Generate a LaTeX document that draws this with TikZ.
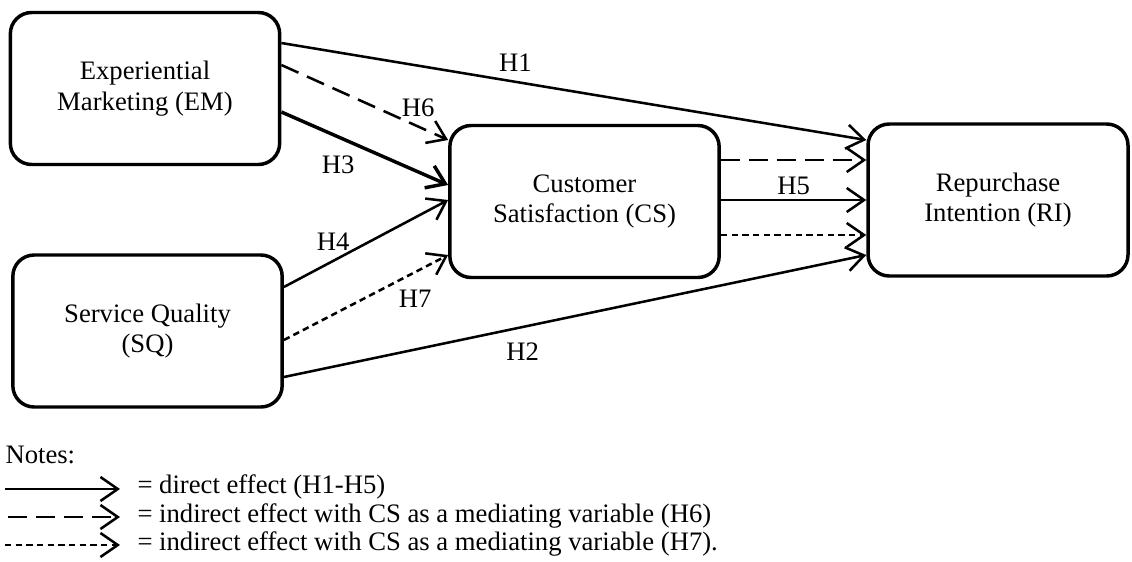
\documentclass[tikz,border=0pt]{standalone}
\usepackage{fontspec}
\setmainfont{Liberation Serif}
\usetikzlibrary{arrows.meta,calc}

\begin{document}
\begin{tikzpicture}[x=0.375pt,y=-0.375pt,>={Straight Barb[length=6.5pt,width=9pt]},
	font=\fontsize{10}{11.5}\selectfont,
	var/.style={draw,line width=1.3pt,rounded corners=8pt,align=center,minimum width=101pt,minimum height=57pt},
	direct/.style={->,line width=0.95pt},
	viacs/.style={->,line width=0.95pt,dash pattern=on 7pt off 3.5pt},
	viasq/.style={->,line width=0.95pt,dash pattern=on 2.4pt off 1.6pt},
	legend/.style={anchor=base west,inner sep=0pt}]
	\useasboundingbox (0,0) rectangle (1132,561);
	\node[var] (em) at (145,88.5) {Experiential\\Marketing (EM)};
	\node[var] (sq) at (147.5,331) {Service Quality\\(SQ)};
	\node[var] (cs) at (584.5,201.5) {Customer\\Satisfaction (CS)};
	\node[var,minimum width=97.5pt] (ri) at (998,200) {Repurchase\\Intention (RI)};
	\path[direct]
	($(em.east)+(0,-45.5)$) edge node[pos=0.4,above] {H1} ($(ri.west)+(0,-60)$)
	($(em.east)+(0,23.5)$) edge[line width=1.3pt] node[pos=0.34,below=3pt] {H3} ($(cs.west)+(0,-16.5)$)
	($(sq.east)+(0,-44)$) edge node[pos=0.3,above] {H4} ($(cs.west)+(0,-1.5)$)
	($(sq.east)+(0,46)$) edge node[pos=0.41,below=2pt] {H2} ($(ri.west)+(0,55)$)
	($(cs.east)+(0,-1.5)$) edge node[above=-2pt] {H5} (ri.west);
	\path[viacs]
	($(em.east)+(0,-23.5)$) edge node[pos=0.82,above] {H6} ($(cs.west)+(0,-61.5)$)
	($(cs.east)+(0,-41.5)$) edge ($(ri.west)+(0,-40)$);
	\path[viasq]
	($(sq.east)+(0,9)$) edge node[pos=0.8,below=3pt] {H7} ($(cs.west)+(0,53.5)$)
	($(cs.east)+(0,33.5)$) edge ($(ri.west)+(0,35)$);
	% notes
	\node[legend] (notes) at (5,463) {Notes:};
	\node[legend] (k1) at (137,493) {= direct effect (H1-H5)};
	\node[legend] (k2) at (137,522) {= indirect effect with CS as a mediating variable (H6)};
	\node[legend] (k3) at (137,550) {= indirect effect with CS as a mediating variable (H7).};
	\coordinate (k1a) at (5,489);
	\coordinate (k1b) at (120,489);
	\coordinate (k2a) at (8,517);
	\coordinate (k2b) at (120,517);
	\coordinate (k3a) at (5,545);
	\coordinate (k3b) at (120,545);
	\draw[direct] (k1a) -- (k1b);
	\draw[viacs] (k2a) -- (k2b);
	\draw[viasq] (k3a) -- (k3b);
\end{tikzpicture}
\end{document}
